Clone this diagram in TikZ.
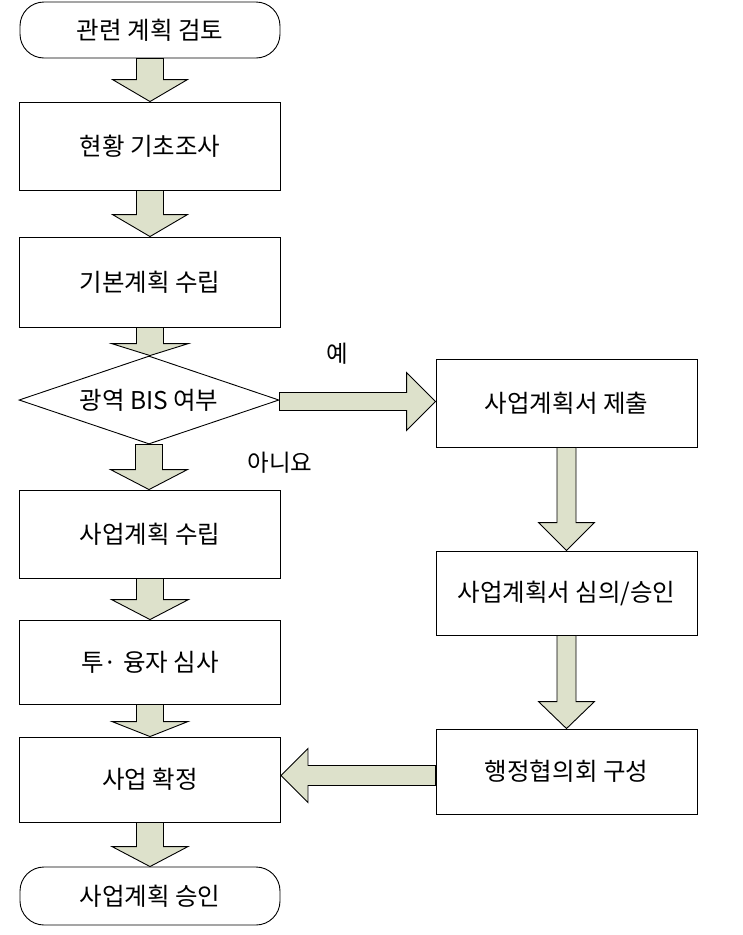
\documentclass[tikz,border=0pt]{standalone}
\usepackage{fontspec}
\setmainfont{Noto Sans CJK KR}
\usetikzlibrary{shapes.geometric,calc}
\definecolor{arrfill}{RGB}{221,225,203}
% vertical block arrow: #1 from, #2 to, #3 shaft half width, #4 head half width, #5 head length
\newcommand\vbarrow[5]{%
  \draw[barrow] let \p1=(#1.south), \p2=(#2.north) in
  (\x1-#3pt,\y1) -- (\x1+#3pt,\y1) -- (\x1+#3pt,\y2+#5pt) -- (\x1+#4pt,\y2+#5pt)
  -- (\x1,\y2) -- (\x1-#4pt,\y2+#5pt) -- (\x1-#3pt,\y2+#5pt) -- cycle;}
% rightward block arrow
\newcommand\rbarrow[5]{%
  \draw[barrow] let \p1=(#1.east), \p2=(#2.west), \p3=($(#1.east)!0.5!(#2.west)$) in
  (\x1,\y3+#3pt) -- (\x2-#5pt,\y3+#3pt) -- (\x2-#5pt,\y3+#4pt) -- (\x2,\y3)
  -- (\x2-#5pt,\y3-#4pt) -- (\x2-#5pt,\y3-#3pt) -- (\x1,\y3-#3pt) -- cycle;}
% leftward block arrow
\newcommand\lbarrow[5]{%
  \draw[barrow] let \p1=(#1.west), \p2=(#2.east), \p3=($(#1.west)!0.5!(#2.east)$) in
  (\x1,\y3+#3pt) -- (\x2+#5pt,\y3+#3pt) -- (\x2+#5pt,\y3+#4pt) -- (\x2,\y3)
  -- (\x2+#5pt,\y3-#4pt) -- (\x2+#5pt,\y3-#3pt) -- (\x1,\y3-#3pt) -- cycle;}
\begin{document}
\begin{tikzpicture}[x=1pt,y=-1pt,
  every node/.style={font=\fontsize{24.5}{28}\selectfont, text=black},
  box/.style={draw, line width=0.9pt, minimum width=261pt, inner sep=0pt},
  term/.style={draw, line width=0.9pt, minimum width=260pt, inner sep=0pt, rounded corners=24pt},
  decision/.style={draw, line width=0.9pt, diamond, aspect=2.95, minimum width=260pt, minimum height=88pt, inner sep=0pt},
  lbl/.style={font=\fontsize{23.5}{27}\selectfont},
  barrow/.style={draw, line width=0.9pt, fill=arrfill, line join=miter}]
\useasboundingbox (0,0) rectangle (743,935);
% left column
\node[term, minimum height=56pt] (t1) at (150,30) {관련 계획 검토};
\node[box, minimum height=88pt] (b1) at (150,146) {현황 기초조사};
\node[box, minimum height=90pt] (b2) at (150,282) {기본계획 수립};
\node[decision] (d) at (149,400) {광역 BIS 여부};
\node[box, minimum height=88pt] (b3) at (150,534) {사업계획 수립};
\node[box, minimum height=84pt] (b4) at (150,662) {투· 융자 심사};
\node[box, minimum height=85pt] (b5) at (150,779.5) {사업 확정};
\node[term, minimum height=58pt] (t2) at (150,896) {사업계획 승인};
% right column
\node[box, minimum height=88pt] (r1) at (566.5,403) {사업계획서 제출};
\node[box, minimum height=84pt] (r2) at (566.5,593) {사업계획서 심의/승인};
\node[box, minimum height=85pt] (r3) at (566.5,771.5) {행정협의회 구성};
% labels
\node[lbl] (yes) at (337,354) {예};
\node[lbl] (no) at (280,463) {아니요};
% arrows
\vbarrow{t1}{b1}{13.5}{37.5}{22}
\vbarrow{b1}{b2}{13.5}{37.5}{22}
\vbarrow{b2}{d}{13.5}{38.5}{12}
\vbarrow{d}{b3}{13.5}{38.5}{20}
\vbarrow{b3}{b4}{13.5}{38.5}{20}
\vbarrow{b4}{b5}{13.5}{38}{15}
\vbarrow{b5}{t2}{13.5}{38}{20}
\vbarrow{r1}{r2}{9.5}{28}{28}
\vbarrow{r2}{r3}{9.5}{28}{27}
\rbarrow{d}{r1}{9}{29}{29}
\lbarrow{r3}{b5}{10}{27}{27}
\end{tikzpicture}
\end{document}
